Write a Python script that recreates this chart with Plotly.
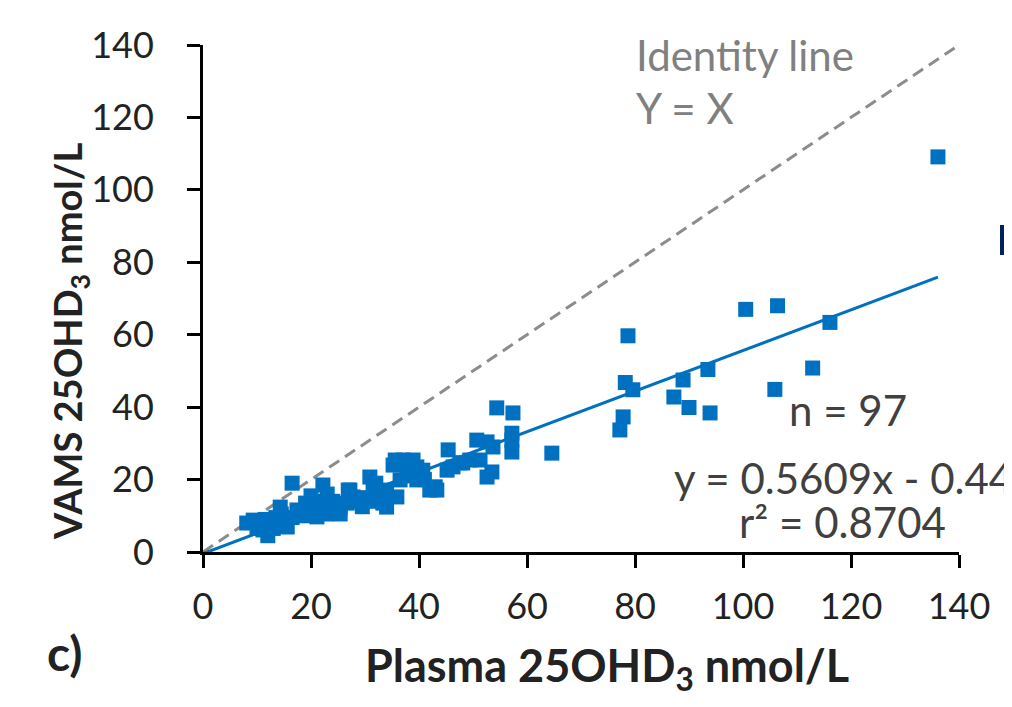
import plotly.graph_objects as go

# Plasma 25OHD3 (x) vs VAMS 25OHD3 (y), nmol/L
plasma = [136.1, 116.1, 106.4, 100.5, 105.9, 112.9, 93.5, 93.9, 90.0, 88.9, 87.2, 78.7, 78.2, 79.6, 77.8, 77.2, 64.6,
          54.4, 57.4, 57.2, 57.2, 57.2, 50.7, 52.6, 53.7, 53.5, 52.6, 51.3, 49.4, 45.4, 45.2, 47.6, 46.3, 48.1, 43.3, 43.0, 42.0,
          40.7, 38.9, 37.0, 35.6, 36.5, 34.0, 34.0, 35.2, 37.8, 39.6, 39.6, 35.9, 38.0, 41.0,
          30.9, 31.5, 33.3, 27.2, 25.4, 30.0, 32.0, 28.5, 26.9, 29.5, 31.0, 33.0, 27.8, 26.7, 25.4, 24.0,
          16.5, 22.2, 23.5, 21.1, 19.8, 17.4, 15.6, 14.3, 22.0, 20.5, 18.5, 23.0, 21.5, 24.5, 19.0, 16.5, 22.8, 20.0,
          9.3, 8.1, 11.1, 12.0, 10.5, 13.5, 12.5, 14.5, 11.5, 13.0, 10.0, 15.0]
vams = [109.1, 63.4, 68.0, 67.0, 44.9, 50.8, 50.4, 38.4, 39.9, 47.5, 42.8, 59.7, 46.8, 44.8, 37.3, 33.7, 27.3,
        39.8, 38.4, 32.8, 30.9, 27.6, 30.9, 30.4, 29.0, 22.1, 20.7, 25.4, 25.4, 28.2, 22.6, 24.6, 23.5, 24.6, 17.1, 18.0, 17.1,
        22.6, 25.4, 25.4, 25.4, 19.9, 17.1, 12.4, 24.0, 23.0, 23.5, 19.9, 15.2, 21.0, 20.0,
        20.7, 17.1, 13.5, 17.1, 12.4, 15.0, 19.0, 14.0, 17.1, 12.5, 14.0, 16.0, 15.2, 13.5, 10.5, 14.0,
        19.0, 18.5, 11.6, 9.7, 12.4, 11.6, 6.9, 12.4, 14.0, 11.0, 10.0, 16.0, 13.0, 12.0, 13.5, 9.5, 10.5, 15.5,
        8.8, 8.0, 6.1, 4.5, 7.5, 9.5, 8.0, 10.5, 9.0, 6.5, 6.5, 8.0]

slope = 0.5609
intercept = -0.4486
r_squared = 0.8704
n_label = 97
axis_ticks = [0, 20, 40, 60, 80, 100, 120, 140]

FONT = "Lato"
BLUE = "#0070C0"

fig = go.Figure()
# identity line
fig.add_trace(go.Scatter(x=[0, 140], y=[0, 140], mode="lines",
                         line=dict(color="#8c8c8c", width=3, dash="12px,7px"), hoverinfo="skip"))
# regression line
x_end = max(plasma)
fig.add_trace(go.Scatter(x=[0, x_end], y=[intercept, slope * x_end + intercept], mode="lines",
                         line=dict(color=BLUE, width=3), hoverinfo="skip"))
fig.add_trace(go.Scatter(x=plasma, y=vams, mode="markers",
                         marker=dict(symbol="square", size=15, color=BLUE, line=dict(width=0))))

axis_common = dict(range=[0, 140], tickvals=axis_ticks, showgrid=False, zeroline=False,
                   showline=True, linecolor="black", linewidth=3, ticks="outside", ticklen=13,
                   tickwidth=3, tickcolor="black", tickfont=dict(family=FONT, size=36, color="#222"))
fig.update_xaxes(**axis_common, ticklabelstandoff=8)
fig.update_yaxes(**axis_common, ticklabelstandoff=26)

anns = [
    dict(x=79.8, y=137.3, text="Identity line", xanchor="left", font=dict(size=42, color="#808080")),
    dict(x=79.8, y=122.7, text="Y = X", xanchor="left", font=dict(size=42, color="#808080")),
    dict(x=119.4, y=39.2, text=f"n = {n_label}", xanchor="center", font=dict(size=42, color="#404040")),
    dict(x=86.9, y=20.4, text=f"y = {slope}x - {abs(intercept)}", xanchor="left", font=dict(size=42, color="#404040")),
    dict(x=138.0, y=8.3, text=f"r\u00b2 = {r_squared}", xanchor="right", font=dict(size=42, color="#404040")),
]
annotations = []
for a in anns:
    a.update(xref="x", yref="y", yanchor="middle", showarrow=False)
    a["font"]["family"] = FONT
    annotations.append(a)

def px(vx):
    return (vx - 203) / 756

def py(vy):
    return (552 - vy) / 507

annotations += [
    dict(xref="paper", yref="paper", x=px(607), y=py(668), text="<b>Plasma 25OHD<sub>3</sub> nmol/L</b>",
         showarrow=False, xanchor="center", yanchor="middle", font=dict(family=FONT, size=45, color="#222")),
    dict(xref="paper", yref="paper", x=px(70), y=py(342), text="<b>VAMS 25OHD<sub>3</sub> nmol/L</b>",
         showarrow=False, xanchor="center", yanchor="middle", textangle=-90, font=dict(family=FONT, size=38, color="#222")),
    dict(xref="paper", yref="paper", x=px(65), y=py(652), text="<b>c)</b>",
         showarrow=False, xanchor="center", yanchor="middle", font=dict(family=FONT, size=48, color="#222")),
]

fig.update_layout(
    width=1012, height=707,
    margin=dict(l=195, r=61, t=37, b=163),
    paper_bgcolor="white", plot_bgcolor="white",
    showlegend=False,
    annotations=annotations,
    shapes=[dict(type="rect", xref="paper", yref="paper", x0=px(1000), x1=px(1016),
                 y0=py(255), y1=py(225), fillcolor="#002060", line=dict(width=0))],
)

fig.write_html("out.html")
